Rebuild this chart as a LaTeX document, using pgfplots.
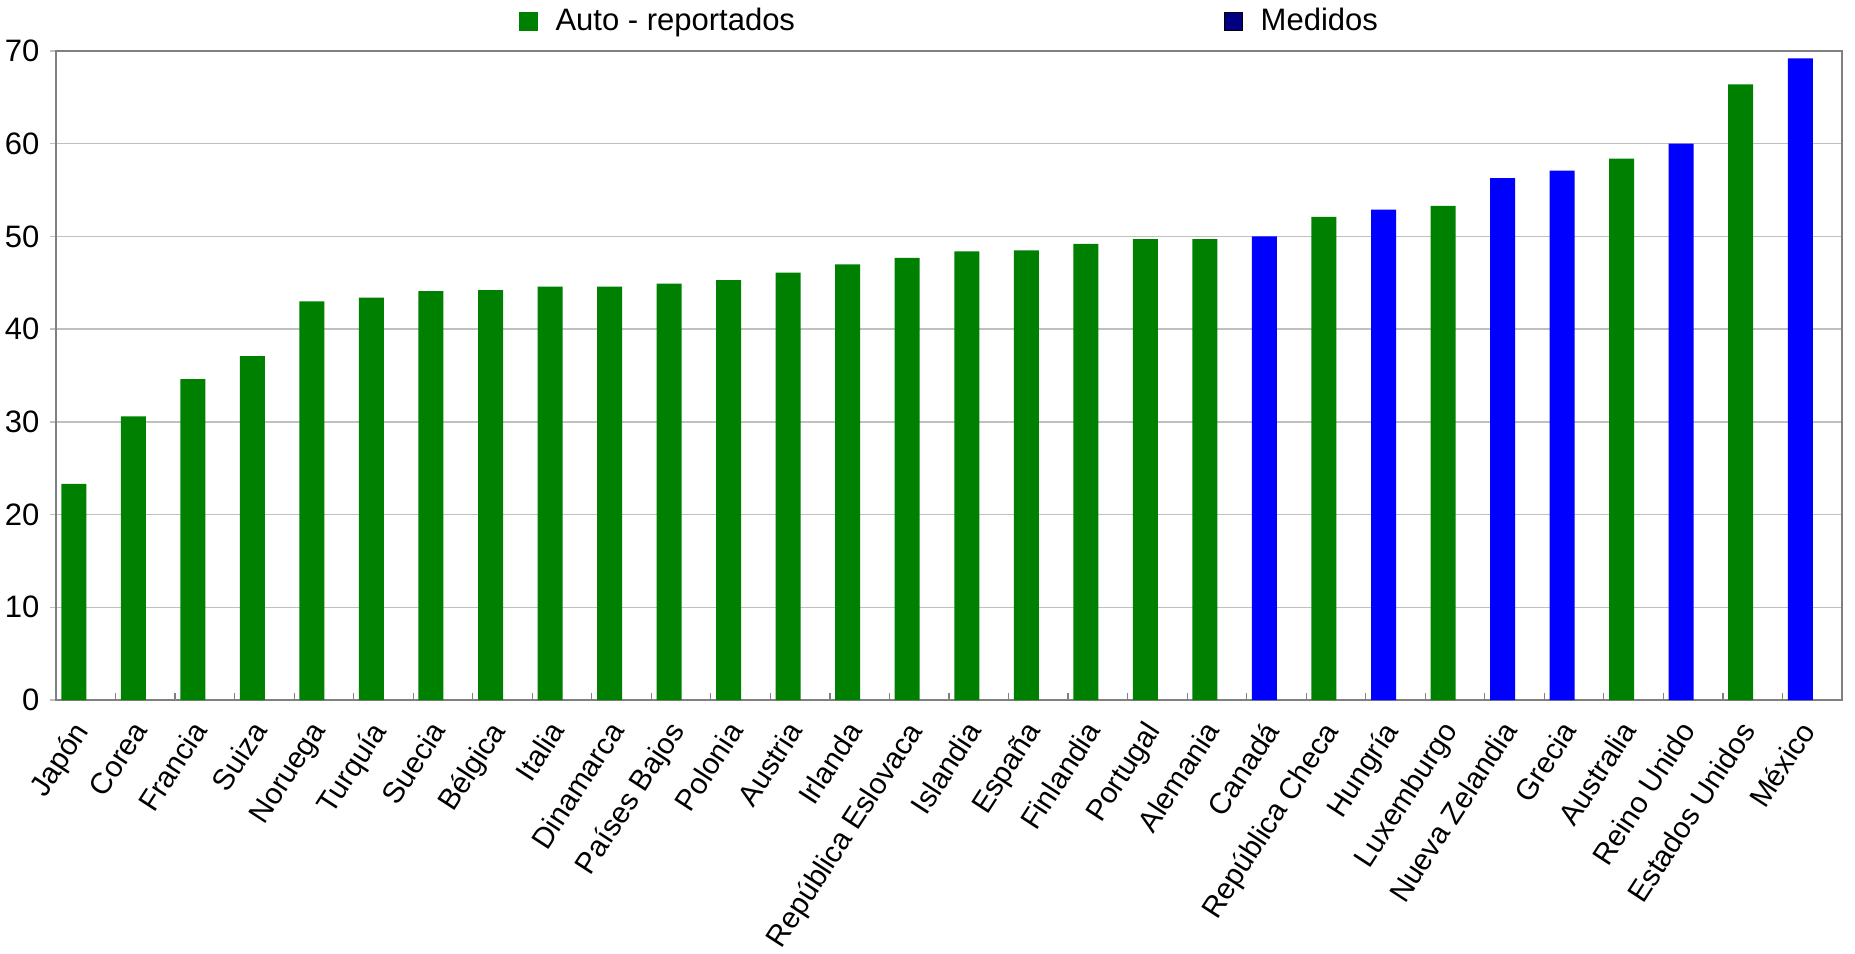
\documentclass[border=0pt]{standalone}
\usepackage{pgfplots}
\pgfplotsset{compat=1.18}
\usepackage{fontspec}
\setmainfont{Liberation Sans}

\definecolor{autogreen}{RGB}{0,128,0}
\definecolor{medblue}{RGB}{0,0,255}
\definecolor{legnavy}{RGB}{0,0,128}
\definecolor{framegray}{RGB}{128,128,128}
\definecolor{gridgray}{RGB}{192,192,192}

\begin{document}
\fontsize{15.5}{18}\selectfont
\begin{tikzpicture}
  \begin{axis}[
    scale only axis,
    width=893pt, height=324.5pt,
    xmin=-0.5, xmax=29.5,
    ymin=0, ymax=70,
    ytick={0,10,...,70},
    ymajorgrids,
    major grid style={gridgray, line width=0.75pt},
    axis line style={framegray, line width=1.2pt},
    tick align=inside,
    xtick pos=lower, ytick pos=left,
    major tick length=3pt,
    y tick style={gridgray, line width=0.75pt, xshift=-3pt},
    yticklabel style={font=\fontsize{15.5}{18}\selectfont, xshift=-3pt},
    /pgf/number format/assume math mode=true,
    xtick={0,...,29},
    x tick style={draw=none},
    minor xtick={0.5,1.5,...,28.5},
    minor x tick style={draw=framegray, line width=0.6pt},
    minor tick length=3.5pt,
    xticklabels={Japón, Corea, Francia, Suiza, Noruega, Turquía, Suecia,
      Bélgica, Italia, Dinamarca, Países Bajos, Polonia, Austria, Irlanda,
      República Eslovaca, Islandia, España, Finlandia, Portugal, Alemania,
      Canadá, República Checa, Hungría, Luxemburgo, Nueva Zelandia, Grecia,
      Australia, Reino Unido, Estados Unidos, México},
    xticklabel style={font=\fontsize{14.8}{17}\selectfont,
      xshift=-7.5pt, yshift=-8pt, rotate=57, anchor=north east,
      inner sep=1pt},
    legend columns=2,
    legend style={draw=none, fill=none, at={(0.2555,1.046)}, anchor=west,
      font=\fontsize{15.5}{18}\selectfont, column sep=0pt},
    legend cell align=left,
  ]
    % Auto - reportados
    \addplot[ybar, bar width=12.5pt, bar shift=-6pt, fill=autogreen,
      draw=none, forget plot] coordinates {
      (0,23.3) (1,30.6) (2,34.6) (3,37.1) (4,43.0) (5,43.4) (6,44.1)
      (7,44.2) (8,44.6) (9,44.6) (10,44.9) (11,45.3) (12,46.1) (13,47.0)
      (14,47.7) (15,48.4) (16,48.5) (17,49.2) (18,49.7) (19,49.7)
      (21,52.1) (23,53.3) (26,58.4) (28,66.4)
    };
    % Medidos
    \addplot[ybar, bar width=12.5pt, bar shift=-6pt, fill=medblue,
      draw=none, forget plot] coordinates {
      (20,50.0) (22,52.9) (24,56.3) (25,57.1) (27,60.0) (29,69.2)
    };
    \addlegendimage{legend image code/.code={
      \fill[autogreen] (0pt,-4.5pt) rectangle (9pt,4.5pt);}}
    \addlegendentry{\hspace{7pt}\makebox[332pt][l]{Auto - reportados}}
    \addlegendimage{legend image code/.code={
      \filldraw[fill=legnavy, draw=black, line width=0.6pt]
        (0pt,-4.5pt) rectangle (9pt,4.5pt);}}
    \addlegendentry{\hspace{7pt}Medidos}
  \end{axis}
  \pgfresetboundingbox
  \path[use as bounding box] (-28pt,-126.5pt) rectangle (899.5pt,350pt);
\end{tikzpicture}
\end{document}
